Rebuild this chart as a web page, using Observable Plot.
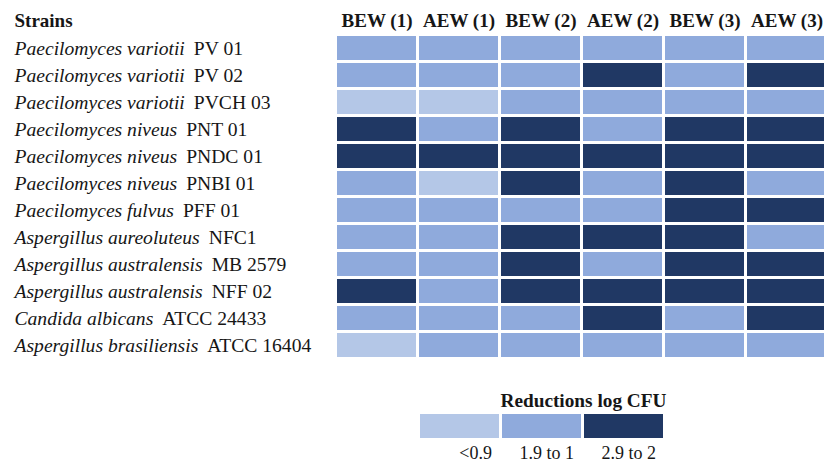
<!DOCTYPE html>
<html><head><meta charset="utf-8">
<script src="https://cdn.jsdelivr.net/npm/d3@7"></script>
<script src="https://cdn.jsdelivr.net/npm/@observablehq/plot@0.6"></script>
<style>
  html, body { margin: 0; padding: 0; background: #fff; }
  svg { display: block; }
</style>
</head><body><div id="chart"></div><script>
// ---- data ----
const rowHeader = "Strains";
const treatments = ["BEW (1)", "AEW (1)", "BEW (2)", "AEW (2)", "BEW (3)", "AEW (3)"];
const species = [
  "Paecilomyces variotii", "Paecilomyces variotii", "Paecilomyces variotii",
  "Paecilomyces niveus", "Paecilomyces niveus", "Paecilomyces niveus",
  "Paecilomyces fulvus", "Aspergillus aureoluteus", "Aspergillus australensis",
  "Aspergillus australensis", "Candida albicans", "Aspergillus brasiliensis"
];
const codes = [
  "PV 01", "PV 02", "PVCH 03", "PNT 01", "PNDC 01", "PNBI 01",
  "PFF 01", "NFC1", "MB 2579", "NFF 02", "ATCC 24433", "ATCC 16404"
];
const legendTitle = "Reductions log CFU";
const classes = ["<0.9", "1.9 to 1", "2.9 to 2"];
const classColors = ["#b4c7e7", "#8faadc", "#203864"];
// class index (0 = <0.9, 1 = 1.9 to 1, 2 = 2.9 to 2) per strain, one array per treatment
const bew1 = [1, 1, 0, 2, 2, 1, 1, 1, 1, 2, 1, 0];
const aew1 = [1, 1, 0, 1, 2, 0, 1, 1, 1, 1, 1, 1];
const bew2 = [1, 1, 1, 2, 2, 2, 1, 2, 2, 2, 1, 1];
const aew2 = [1, 2, 1, 1, 2, 1, 1, 2, 1, 2, 2, 1];
const bew3 = [1, 1, 1, 2, 2, 2, 2, 2, 2, 2, 1, 1];
const aew3 = [1, 2, 1, 2, 2, 1, 2, 1, 2, 2, 2, 1];

// ---- build ----
const strains = species.map((s, i) => s + " " + codes[i]);
const columns = [bew1, aew1, bew2, aew2, bew3, aew3];
const cells = [];
treatments.forEach((t, j) => strains.forEach((s, i) =>
  cells.push({treatment: t, strain: s, level: classes[columns[j][i]]})));

const font = "Liberation Serif";
const ink = "#161616";
const txt = {fontFamily: font, fill: ink, lineAnchor: "middle"};

const main = Plot.plot({
  width: 824, height: 370,
  marginTop: 0, marginLeft: 0, marginRight: 0, marginBottom: 0,
  style: {fontFamily: "'Liberation Serif', serif", background: "#fff", color: ink},
  x: {domain: treatments, range: [334.5, 829], paddingInner: 0.036, paddingOuter: 0.018, axis: null},
  y: {domain: strains, range: [33.5, 359.7], paddingInner: 0.107, paddingOuter: 0.0535, axis: null},
  color: {domain: classes, range: classColors},
  marks: [
    Plot.cell(cells, {x: "treatment", y: "strain", fill: "level"}),
    Plot.text(treatments, {...txt, x: d => d, text: d => d, frameAnchor: "top", dy: 20, fontWeight: "bold", fontSize: 19}),
    Plot.text([rowHeader], {...txt, text: d => d, frameAnchor: "top-left", dx: 14, dy: 20, textAnchor: "start", fontWeight: "bold", fontSize: 19}),
    Plot.text(strains, {...txt, y: d => d, text: d => d, frameAnchor: "left", dx: 14, textAnchor: "start", fontSize: 19.6})
  ]
});

// italicise species part of strain labels
main.querySelectorAll("text").forEach(t => {
  const i = strains.indexOf(t.textContent);
  if (i < 0) return;
  t.textContent = "";
  const a = document.createElementNS("http://www.w3.org/2000/svg", "tspan");
  a.setAttribute("font-style", "italic");
  a.textContent = species[i];
  const b = document.createElementNS("http://www.w3.org/2000/svg", "tspan");
  b.setAttribute("dx", "9");
  b.textContent = codes[i];
  t.appendChild(a); t.appendChild(b);
});

const legend = Plot.plot({
  width: 824, height: 93,
  marginTop: 44, marginBottom: 25, marginLeft: 417.5, marginRight: 158,
  style: {fontFamily: "'Liberation Serif', serif", background: "#fff", color: ink},
  x: {domain: classes, paddingInner: 0.036, paddingOuter: 0.018, axis: null},
  color: {domain: classes, range: classColors},
  marks: [
    Plot.cell(classes, {x: d => d, fill: d => d}),
    Plot.text([legendTitle], {...txt, text: d => d, frameAnchor: "top-right", textAnchor: "end", dy: -14, fontWeight: "bold", fontSize: 19.3}),
    Plot.text(classes, {...txt, x: d => d, text: d => d, frameAnchor: "bottom", textAnchor: "end", dx: 32, dy: 15, fontSize: 18})
  ]
});

const root = document.getElementById("chart");
root.appendChild(main);
root.appendChild(legend);
</script></body></html>
